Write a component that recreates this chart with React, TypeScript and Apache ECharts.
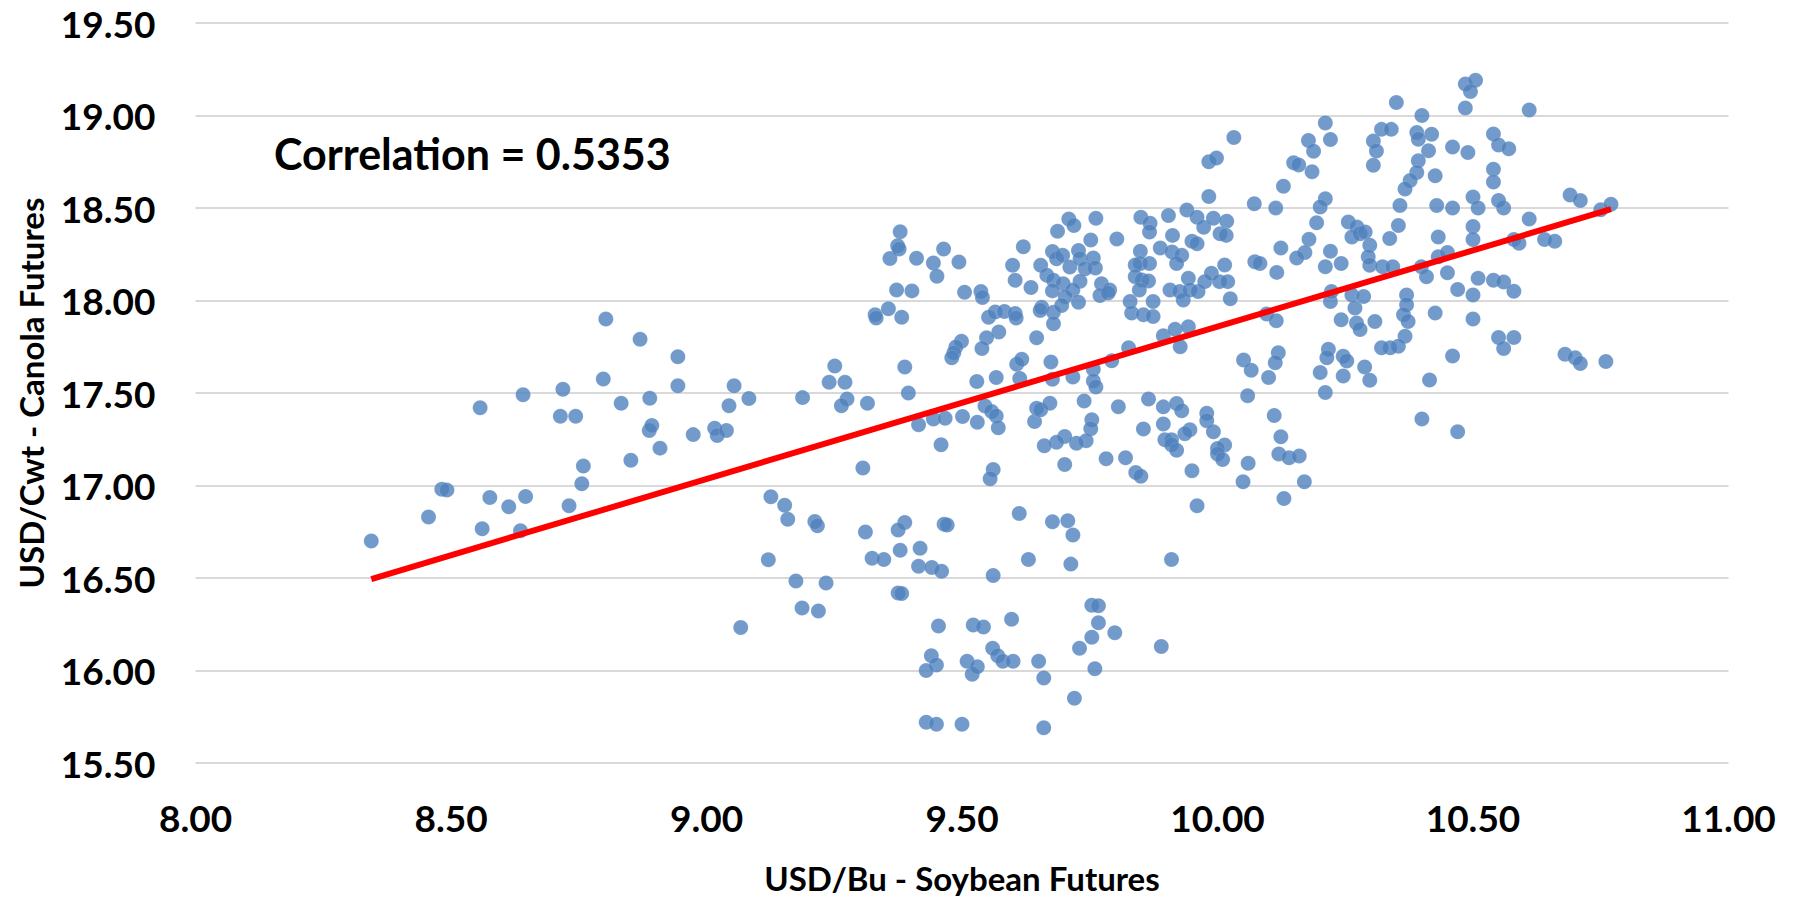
import React, { useEffect, useRef } from "react";
import * as echarts from "echarts";

// USD/Bu soybean (x) vs USD/Cwt canola (y)
const leftCluster: [number, number][] = [
  [8.344,16.70],[8.456,16.83],[8.482,16.98],[8.492,16.975],[8.557,17.42],[8.561,16.766],[8.576,16.935],[8.613,16.885],
  [8.636,16.755],[8.641,17.49],[8.646,16.94],[8.714,17.374],[8.719,17.52],[8.731,16.89],[8.744,17.374],[8.756,17.009],
  [8.759,17.105],[8.798,17.576],[8.803,17.90],[8.833,17.445],[8.852,17.136],[8.870,17.79],[8.889,17.472],[8.888,17.297],
  [8.893,17.324],[8.909,17.202],[8.944,17.696],[8.944,17.539],[8.974,17.275],[9.016,17.31],[9.021,17.27],[9.039,17.297],
  [9.044,17.431],[9.054,17.539],[9.083,17.47],[9.067,16.232]
];
const midLeftCluster: [number, number][] = [
  [9.126,16.939],[9.153,16.893],[9.159,16.817],[9.212,16.805],[9.217,16.783],[9.121,16.599],[9.175,16.484],[9.234,16.473],
  [9.187,16.338],[9.219,16.322],[9.188,17.475],[9.240,17.558],[9.271,17.558],[9.275,17.467],[9.264,17.431],[9.315,17.444],
  [9.306,17.095],[9.311,16.749],[9.324,16.607],[9.347,16.60],[9.251,17.646],[9.330,17.923],[9.332,17.905],[9.356,17.955],
  [9.359,18.227]
];
const upperMidCluster: [number, number][] = [
  [9.379,18.371],[9.374,18.296],[9.377,18.278],[9.411,18.228],[9.464,18.278],[9.444,18.203],[9.451,18.131],[9.494,18.208],
  [9.372,18.057],[9.402,18.052],[9.505,18.045],[9.537,18.048],[9.540,18.016],[9.382,17.91],[9.552,17.909],[9.565,17.938],
  [9.583,17.941],[9.604,17.93],[9.606,17.905],[9.572,17.83],[9.548,17.798],[9.539,17.741],[9.499,17.78],[9.488,17.748],
  [9.484,17.717],[9.646,17.798],[9.620,18.29],[9.599,18.19],[9.604,18.109],[9.635,18.07],[9.654,18.19],[9.677,18.265],
  [9.687,18.374],[9.709,18.44],[9.719,18.405],[9.762,18.444],[9.752,18.327],[9.803,18.333],[9.685,18.226],[9.697,18.244],
  [9.711,18.181],[9.728,18.27],[9.731,18.226],[9.757,18.23],[9.761,18.176],[9.741,18.172],[9.666,18.136],[9.679,18.109],
  [9.698,18.091],[9.731,18.104],[9.677,18.052],[9.717,18.057],[9.702,18.02],[9.773,18.091],[9.789,18.057],[9.770,18.027],
  [9.786,18.04],[9.656,17.964],[9.653,17.946],[9.679,17.937],[9.695,17.973],[9.728,17.991],[9.679,17.874]
];
const lowerMidCluster: [number, number][] = [
  [9.480,17.69],[9.388,17.641],[9.395,17.5],[9.529,17.562],[9.567,17.584],[9.607,17.655],[9.617,17.682],[9.613,17.579],
  [9.674,17.667],[9.677,17.574],[9.717,17.587],[9.757,17.628],[9.757,17.565],[9.762,17.533],[9.793,17.674],[9.806,17.426],
  [9.545,17.43],[9.558,17.4],[9.567,17.376],[9.415,17.329],[9.444,17.36],[9.467,17.364],[9.501,17.373],[9.530,17.342],
  [9.571,17.312],[9.459,17.22],[9.642,17.346],[9.646,17.418],[9.654,17.409],[9.672,17.445],[9.739,17.457],[9.754,17.355],
  [9.752,17.307],[9.743,17.242],[9.724,17.229],[9.701,17.265],[9.685,17.234],[9.661,17.215],[9.701,17.114],[9.782,17.145],
  [9.561,17.086],[9.555,17.037],[9.388,16.8],[9.375,16.759],[9.465,16.791],[9.471,16.786],[9.612,16.849],[9.677,16.804],
  [9.707,16.81],[9.717,16.732],[9.379,16.65],[9.418,16.661],[9.415,16.563],[9.441,16.557],[9.460,16.536],[9.630,16.6],
  [9.713,16.575],[9.561,16.513],[9.375,16.419],[9.382,16.416],[9.454,16.241],[9.522,16.246],[9.542,16.235],[9.597,16.277],
  [9.754,16.353],[9.767,16.35],[9.767,16.258],[9.799,16.204],[9.754,16.18]
];
const bottomCluster: [number, number][] = [
  [9.44,16.08],[9.45,16.03],[9.43,16.00],[9.52,15.98],[9.51,16.05],[9.53,16.02],[9.56,16.12],[9.57,16.08],[9.58,16.05],
  [9.60,16.05],[9.65,16.05],[9.66,15.96],[9.73,16.12],[9.76,16.01],[9.43,15.72],[9.45,15.71],[9.50,15.71],[9.66,15.69],
  [9.72,15.85],[9.89,16.13]
];
const centreHighCluster: [number, number][] = [
  [10.032,18.881],[9.983,18.75],[9.998,18.77],[9.983,18.562],[10.072,18.523],[10.114,18.5],[10.129,18.618],[10.149,18.744],
  [10.159,18.733],[10.178,18.865],[10.188,18.807],[10.185,18.696],[10.211,18.96],[10.221,18.87],[10.211,18.55],[10.201,18.505],
  [10.194,18.42],[10.179,18.331],[10.124,18.284],[10.171,18.259],[10.155,18.23],[10.221,18.266],[9.850,18.45],[9.868,18.418],
  [9.867,18.37],[9.904,18.459],[9.940,18.489],[9.960,18.45],[9.973,18.396],[9.992,18.445],[10.018,18.429],[10.005,18.361],
  [10.017,18.352],[9.912,18.352],[9.950,18.32],[9.960,18.307],[9.849,18.266],[9.888,18.284],[9.911,18.262],[9.930,18.244]
];
const centreCluster: [number, number][] = [
  [10.211,18.183],[9.920,18.2],[9.849,18.2],[9.867,18.2],[9.839,18.192],[9.839,18.129],[9.852,18.111],[9.865,18.106],
  [9.847,18.057],[9.829,17.995],[9.832,17.932],[9.855,17.923],[9.874,17.914],[9.874,17.995],[9.907,18.057],[9.926,18.048],
  [9.933,18.003],[9.943,18.12],[9.946,18.057],[9.962,18.048],[9.975,18.102],[9.988,18.147],[10.004,18.102],[10.014,18.192],
  [10.020,18.102],[10.025,18.009],[10.073,18.21],[10.083,18.2],[10.116,18.152],[10.221,17.995],[9.894,17.81],[9.917,17.844],
  [9.943,17.858],[9.927,17.75],[9.826,17.744],[10.096,17.927],[10.115,17.891],[10.051,17.678],[10.066,17.623],[10.100,17.584],
  [10.119,17.718],[10.113,17.664],[10.201,17.611],[10.211,17.503],[10.217,17.736],[10.214,17.69],[9.865,17.467],[9.894,17.425],
  [9.920,17.443],[9.930,17.404],[9.979,17.391],[9.979,17.35],[9.992,17.29],[9.855,17.306],[9.894,17.333],[9.946,17.301],
  [9.936,17.28],[9.897,17.247],[9.910,17.247],[10.014,17.219],[10.059,17.485],[10.111,17.378],[10.124,17.263]
];
const centreLowCluster: [number, number][] = [
  [9.82,17.15],[9.84,17.07],[9.85,17.05],[9.91,17.22],[9.92,17.19],[9.95,17.08],[9.96,16.89],[10.00,17.20],[10.00,17.17],
  [10.01,17.14],[10.05,17.02],[10.06,17.12],[10.13,16.93],[10.12,17.17],[10.14,17.15],[10.16,17.16],[10.17,17.02],[9.91,16.60]
];
const rightHighCluster: [number, number][] = [
  [10.305,18.862],[10.311,18.808],[10.305,18.731],[10.321,18.925],[10.34,18.925],[10.390,18.908],[10.419,18.899],[10.393,18.872],
  [10.413,18.81],[10.393,18.755],[10.390,18.692],[10.377,18.648],[10.367,18.603],[10.426,18.674],[10.357,18.514],[10.429,18.514],
  [10.354,18.406],[10.256,18.424],[10.273,18.397],[10.263,18.343],[10.279,18.361],[10.289,18.37],[10.337,18.335],[10.298,18.299],
  [10.295,18.236],[10.298,18.191],[10.242,18.20],[10.432,18.343],[10.432,18.236],[10.399,18.182],[10.409,18.129],[10.323,18.182],
  [10.343,18.182],[10.223,18.048],[10.263,18.03],[10.286,18.021],[10.269,17.959],[10.242,17.896],[10.272,17.878],[10.308,17.887],
  [10.370,18.03],[10.370,17.977],[10.364,17.923],[10.373,17.887],[10.426,17.932],[10.35,19.07],[10.40,19.00]
];
const rightMidCluster: [number, number][] = [
  [10.279,17.843],[10.367,17.807],[10.354,17.753],[10.338,17.744],[10.321,17.744],[10.246,17.699],[10.253,17.673],[10.246,17.592],
  [10.288,17.641],[10.298,17.569],[10.40,17.36],[10.415,17.57]
];
const farRightCluster: [number, number][] = [
  [10.485,19.17],[10.505,19.19],[10.495,19.13],[10.485,19.04],[10.61,19.03],[10.46,18.83],[10.49,18.80],[10.54,18.90],[10.55,18.84],
  [10.57,18.82],[10.54,18.71],[10.54,18.64],[10.50,18.56],[10.51,18.50],[10.46,18.50],[10.56,18.50],[10.55,18.54],[10.61,18.44],
  [10.50,18.40],[10.50,18.33],[10.45,18.26],[10.45,18.15],[10.51,18.12],[10.54,18.11],[10.56,18.10],[10.47,18.06],[10.50,18.03],
  [10.58,18.33],[10.59,18.31],[10.64,18.33],[10.66,18.32],[10.69,18.57],[10.71,18.54],[10.75,18.49],[10.77,18.52],[10.58,18.05],
  [10.50,17.90],[10.55,17.80],[10.58,17.80],[10.56,17.74],[10.46,17.70],[10.47,17.29],[10.68,17.71],[10.70,17.69],[10.71,17.66],
  [10.76,17.67]
];

const trendSlope = 0.824;
const trendIntercept = 9.619;
const correlationText = "Correlation = 0.5353";
const xTitle = "USD/Bu - Soybean Futures";
const yTitle = "USD/Cwt - Canola Futures";

const allPoints = [
  ...leftCluster, ...midLeftCluster, ...upperMidCluster, ...lowerMidCluster, ...bottomCluster,
  ...centreHighCluster, ...centreCluster, ...centreLowCluster, ...rightHighCluster, ...rightMidCluster, ...farRightCluster,
];

export default function App() {
  const ref = useRef<HTMLDivElement>(null);
  useEffect(() => {
    document.body.style.margin = "0";
    if (!ref.current) return;
    const chart = echarts.init(ref.current, null, { renderer: "svg" });
    const xs = allPoints.map((p) => p[0]);
    const xMin = Math.min(...xs);
    const xMax = Math.max(...xs);
    const font = "Lato, 'Open Sans', sans-serif";
    chart.setOption({
      animation: false,
      grid: { left: 195.5, right: 68.5, top: 23, bottom: 131 },
      xAxis: {
        type: "value", min: 8, max: 11, interval: 0.5,
        axisLine: { show: false }, axisTick: { show: false }, splitLine: { show: false },
        axisLabel: { formatter: (v: number) => v.toFixed(2), color: "#000", fontSize: 37, fontWeight: "bold", fontFamily: font, margin: 36 },
        name: xTitle, nameLocation: "middle", nameGap: 98,
        nameTextStyle: { color: "#000", fontSize: 33, fontWeight: "bold", fontFamily: font },
      },
      yAxis: {
        type: "value", min: 15.5, max: 19.5, interval: 0.5,
        axisLine: { show: false }, axisTick: { show: false },
        splitLine: { lineStyle: { color: "#D9D9D9", width: 2 } },
        axisLabel: { formatter: (v: number) => v.toFixed(2), color: "#000", fontSize: 37, fontWeight: "bold", fontFamily: font, margin: 40 },
        name: yTitle, nameLocation: "middle", nameGap: 148,
        nameTextStyle: { color: "#000", fontSize: 33, fontWeight: "bold", fontFamily: font },
      },
      graphic: [{
        type: "text", left: 274, top: 132,
        style: { text: correlationText, fontSize: 43, fontWeight: "bold", fontFamily: font, fill: "#000" },
      }],
      series: [
        {
          type: "scatter", data: allPoints, symbol: "circle", symbolSize: 15,
          itemStyle: { color: "#4F81BD", borderColor: "rgba(255,255,255,0.3)", borderWidth: 0.6 },
          z: 2,
        },
        {
          type: "line", symbol: "none", z: 3,
          data: [[xMin, trendIntercept + trendSlope * xMin], [xMax, trendIntercept + trendSlope * xMax]],
          lineStyle: { color: "#FF0000", width: 6 },
        },
      ],
    });
    return () => chart.dispose();
  }, []);
  return <div ref={ref} style={{ width: 1797, height: 899 }} />;
}
